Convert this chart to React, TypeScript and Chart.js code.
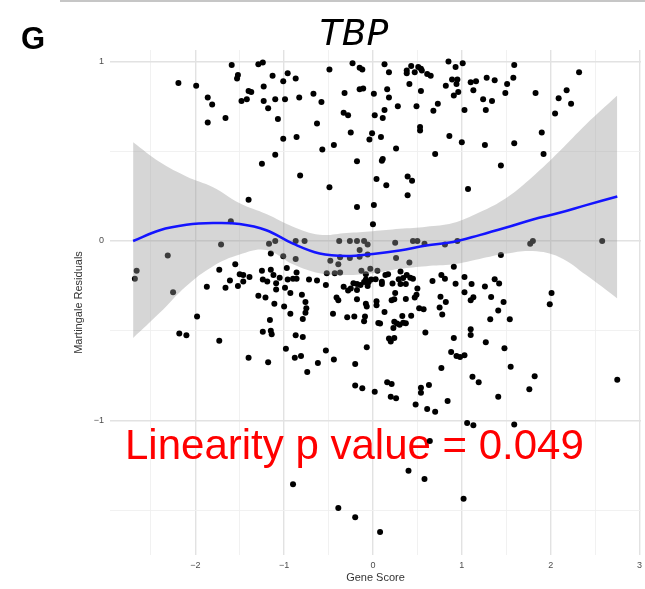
import React, { useEffect, useRef } from "react";
import { Chart, registerables } from "chart.js";
Chart.register(...registerables);

// Gene score (x) of every sample
const geneScore = [
  -2.19, -1.99, -1.86, -1.81, -1.86, -1.66, -1.59, -1.52, -1.53, -1.48, -1.42, -1.40, -1.37, -1.29, -1.24, -1.23, -1.23, -1.18, -1.13, -1.10,
  -1.07, -1.01, -0.96, -0.99, -0.87, -0.83, -1.01, -0.86, -0.67, -0.63, -0.58, -0.49, -0.44, -0.57, -0.32, -0.33, -0.28, -0.25, -0.23, -0.15,
  -0.12, -0.15, -0.11, 0.01, 0.02, -0.01, -0.04, -1.25, -1.10, -0.82, -0.49, -1.40, -1.60, -0.18, -0.18, 0.13, 0.18, 0.16, 0.18, 0.28,
  0.13, 0.11, 0.09, 0.26, 0.38, 0.38, 0.43, 0.47, 0.51, 0.54, 0.55, 0.41, 0.54, 0.49, 0.61, 0.65, 0.73, 0.68, 0.53, 0.53,
  0.85, 0.93, 1.01, 0.82, 0.89, 0.95, 0.94, 0.96, 0.91, 1.03, 0.86, 1.00, 1.10, 1.16, 1.13, 1.28, 1.37, 1.24, 1.34, 1.27,
  1.26, 1.51, 1.58, 1.59, 1.49, 1.59, 1.83, 1.90, 2.05, 2.09, 2.18, 2.23, 2.32, 0.01, 0.00, 0.04, 0.15, 0.11, 0.10, 0.39,
  0.44, 0.39, 0.70, 1.07, 1.44, 1.92, -2.66, -2.68, -2.31, -1.71, -2.25, -1.98, -2.18, -2.10, -1.73, -1.87, -1.73, -1.55, -1.66, -1.61,
  -1.52, -1.50, -1.46, -1.46, -1.39, -1.29, -1.21, -1.25, -1.15, -1.12, -1.05, -1.24, -1.19, -1.09, -1.09, -0.99, -1.11, -1.00, -1.16, -1.24,
  -1.15, -1.14, -1.40, -1.18, -0.98, -1.17, -1.10, -1.15, -1.01, -0.87, -0.97, -0.87, -0.77, -0.88, -0.81, -0.74, -0.62, -0.53, -0.44, -0.20,
  -0.20, -0.87, -0.79, -0.93, -0.79, -0.75, -0.76, -0.76, -0.80, -0.93, -0.96, -0.90, -0.86, -0.86, -0.72, -0.63, -0.53, -0.45, -0.41, -0.39,
  -0.33, -0.28, -0.25, -0.22, -0.18, -0.29, -0.21, -0.18, -0.52, -0.43, -0.37, -0.48, -0.39, -0.38, -0.26, -0.18, -0.10, -0.06, -0.15, 0.25,
  0.45, 0.50, 0.58, 0.81, 0.95, 1.77, 1.80, 2.58, -0.37, -0.26, -0.15, -0.06, 0.26, 0.41, -0.13, -0.08, -0.03, 0.05, 0.14, 0.17,
  0.31, 0.38, 0.42, 0.45, -0.14, -0.10, -0.05, -0.02, -0.08, 0.03, -0.18, -0.06, -0.08, -0.07, -0.09, -0.10, 0.04, 0.04, 0.10, 0.10,
  0.13, 0.06, 0.08, 0.21, 0.24, 0.25, 0.22, 0.29, 0.31, 0.37, 0.34, 0.24, 0.27, 0.30, 0.34, 0.37, 0.33, 0.43, 0.23, 0.18,
  0.20, 0.24, 0.37, 0.49, 0.50, 0.47, 0.52, 0.57, 0.59, 0.67, 0.77, 0.81, 0.76, 0.82, 0.75, 0.78, 0.91, 1.03, 1.37, 1.42,
  0.93, 1.11, 1.26, 1.03, 1.33, 1.13, 1.10, 1.47, 1.41, 1.32, 1.54, 1.10, 1.10, 0.91, 1.27, 1.48, 0.88, 0.94, 0.98, 1.03,
  1.44, 1.99, 2.01, -0.07, -0.12, 0.02, 0.16, 0.21, 0.20, 0.26, 0.48, 0.54, 0.54, 0.63, 0.61, 0.70, 0.77, 0.84, 1.06, 1.13,
  1.12, 1.19, 1.41, 1.55, 1.59, 1.76, 1.82, 2.75, 0.64, 0.40, 0.58, 1.02, -0.90, -0.39, -0.20, 0.08,
];

// Martingale residual (y) of every sample
const residual = [
  0.88, 0.865, 0.80, 0.76, 0.66, 0.685, 0.98, 0.925, 0.905, 0.78, 0.79, 0.835, 0.83, 0.985, 0.995, 0.86, 0.78, 0.74, 0.92, 0.79,
  0.68, 0.89, 0.935, 0.79, 0.905, 0.80, 0.57, 0.58, 0.82, 0.655, 0.775, 0.955, 0.535, 0.51, 0.825, 0.715, 0.70, 0.605, 0.99, 0.965,
  0.955, 0.845, 0.85, 0.82, 0.70, 0.60, 0.565, 0.43, 0.48, 0.365, 0.30, 0.23, 0.11, 0.445, 0.19, 0.985, 0.94, 0.845, 0.80, 0.75,
  0.73, 0.685, 0.58, 0.515, 0.95, 0.935, 0.975, 0.94, 0.97, 0.96, 0.95, 0.875, 0.835, 0.75, 0.93, 0.92, 0.765, 0.725, 0.635, 0.615,
  1.0, 0.97, 0.99, 0.865, 0.90, 0.90, 0.875, 0.83, 0.81, 0.73, 0.585, 0.55, 0.885, 0.89, 0.84, 0.91, 0.895, 0.79, 0.78, 0.73,
  0.535, 0.875, 0.91, 0.98, 0.825, 0.545, 0.825, 0.605, 0.71, 0.795, 0.84, 0.765, 0.94, 0.20, 0.093, 0.345, 0.31, 0.457, 0.447, 0.36,
  0.335, 0.255, 0.485, 0.29, 0.42, 0.485, -0.165, -0.21, -0.08, -0.02, -0.285, -0.42, -0.515, -0.525, -0.555, -0.255, -0.16, -0.13, -0.26, -0.22,
  -0.25, -0.185, -0.19, -0.225, -0.20, -0.305, -0.315, -0.165, -0.16, -0.19, -0.205, -0.215, -0.225, -0.235, -0.27, -0.26, -0.35, -0.365, -0.44, -0.505,
  -0.50, -0.52, -0.65, -0.675, -0.60, -0.015, 0.0, -0.07, -0.085, -0.10, -0.15, 0.0, 0.0, -0.65, -0.64, -0.73, -0.68, -0.61, -0.66, -0.685,
  -0.805, -0.525, -0.535, -0.405, -0.435, -0.375, -0.40, -0.34, -0.30, -0.29, -0.215, -0.21, -0.21, -0.175, -0.215, -0.22, -0.245, -0.405, -0.315, -0.33,
  -0.255, -0.275, -0.265, -0.235, -0.24, -0.425, -0.42, -0.325, -0.18, -0.18, -0.175, -0.11, -0.13, 0.0, 0.0, 0.0, 0.0, -0.02, -0.05, -0.01,
  0.0, 0.0, -0.015, -0.02, 0.0, -0.015, 0.0, 0.0, -0.09, -0.095, -0.088, -0.075, -0.095, -0.12, -0.165, -0.185, -0.155, -0.165, -0.19, -0.185,
  -0.17, -0.19, -0.205, -0.21, -0.245, -0.228, -0.23, -0.215, -0.214, -0.213, -0.273, -0.25, -0.35, -0.365, -0.42, -0.447, -0.335, -0.358, -0.227, -0.24,
  -0.395, -0.457, -0.46, -0.33, -0.325, -0.29, -0.237, -0.213, -0.24, -0.24, -0.206, -0.45, -0.46, -0.467, -0.455, -0.458, -0.418, -0.417, -0.485, -0.543,
  -0.56, -0.54, -0.323, -0.30, -0.264, -0.315, -0.375, -0.38, -0.51, -0.223, -0.19, -0.21, -0.31, -0.34, -0.37, -0.41, -0.143, -0.20, -0.213, -0.236,
  -0.238, -0.24, -0.253, -0.286, -0.312, -0.313, -0.33, -0.34, -0.387, -0.436, -0.436, -0.492, -0.524, -0.54, -0.564, -0.598, -0.618, -0.64, -0.646, -0.636,
  -0.078, -0.352, -0.29, -0.592, -0.82, -0.84, -0.787, -0.797, -0.867, -0.876, -0.91, -0.817, -0.845, -0.802, -0.936, -0.951, -0.708, -0.891, -1.014, -1.026,
  -0.756, -0.787, -0.867, -0.70, -1.022, -0.826, -0.754, -0.773, -1.114, -1.28, -1.326, -1.436, -1.355, -1.487, -1.539, -1.621,
];

// LOESS fit and its confidence band
const smoothX = [-2.7, -2.4, -2.1, -1.8, -1.5, -1.2, -0.9, -0.6, -0.3, 0, 0.3, 0.6, 0.9, 1.2, 1.5, 1.8, 2.1, 2.4, 2.75];
const smoothY = [0.0, 0.06, 0.09, 0.1, 0.095, 0.06, -0.015, -0.07, -0.084, -0.072, -0.053, -0.025, -0.005, 0.033, 0.075, 0.12, 0.157, 0.2, 0.248];
const bandUpper = [0.55, 0.44, 0.36, 0.3, 0.21, 0.15, 0.08, 0.035, 0.045, 0.055, 0.068, 0.08, 0.1, 0.16, 0.24, 0.36, 0.5, 0.65, 0.81];
const bandLower = [-0.54, -0.4, -0.25, -0.14, -0.075, -0.05, -0.13, -0.18, -0.19, -0.18, -0.155, -0.14, -0.13, -0.1, -0.07, -0.056, -0.09, -0.19, -0.32];

const xGridValues = [-2.5, -2, -1.5, -1, -0.5, 0, 0.5, 1, 1.5, 2, 2.5, 3];
const yGridValues = [-1.5, -1, -0.5, 0, 0.5, 1];

const titleText = "TBP";
const panelLetter = "G";
const annotationText = "Linearity p value = 0.049";
const xTitle = "Gene Score";
const yTitle = "Martingale Residuals";

const fmt = (v: number) => (v < 0 ? "\u2212" + Math.abs(v) : String(v));

export default function App() {
  const ref = useRef<HTMLCanvasElement | null>(null);
  useEffect(() => {
    if (!ref.current) return;
    const points = geneScore.map((x, i) => ({ x, y: residual[i] }));
    const line = smoothX.map((x, i) => ({ x, y: smoothY[i] }));
    const up = smoothX.map((x, i) => ({ x, y: bandUpper[i] }));
    const lo = smoothX.map((x, i) => ({ x, y: bandLower[i] }));

    const textPlugin = {
      id: "texts",
      beforeDatasetsDraw(chart: any) {
        const ctx = chart.ctx;
        ctx.save();
        ctx.fillStyle = "#ff0000";
        ctx.font = '42px "Liberation Sans", Arial, sans-serif';
        ctx.textAlign = "left";
        ctx.textBaseline = "alphabetic";
        ctx.fillText(annotationText, 125, 459);
        ctx.restore();
      },
      afterDraw(chart: any) {
        const ctx = chart.ctx;
        ctx.save();
        ctx.strokeStyle = "#b3b3b3";
        ctx.lineWidth = 1.5;
        ctx.beginPath();
        ctx.moveTo(60, 1);
        ctx.lineTo(645, 1);
        ctx.stroke();
        ctx.fillStyle = "#000";
        ctx.textBaseline = "alphabetic";
        ctx.textAlign = "left";
        ctx.font = 'bold 31px "Liberation Sans", Arial, sans-serif';
        ctx.fillText(panelLetter, 21, 49);
        ctx.textAlign = "center";
        ctx.font = 'italic 36px "DejaVu Sans", sans-serif';
        ctx.fillText(titleText, 354, 45);
        ctx.restore();
      },
    };

    const chart = new Chart(ref.current, {
      type: "scatter",
      data: {
        datasets: [
          {
            type: "line",
            data: line,
            borderColor: "#1414ff",
            borderWidth: 2.5,
            pointRadius: 0,
            tension: 0.4,
            fill: false,
            order: 0,
          } as any,
          {
            type: "line",
            data: lo,
            borderWidth: 0,
            borderColor: "rgba(0,0,0,0)",
            pointRadius: 0,
            tension: 0.4,
            fill: false,
            order: 1,
          },
          {
            type: "line",
            data: up,
            borderWidth: 0,
            borderColor: "rgba(0,0,0,0)",
            backgroundColor: "rgba(153,153,153,0.4)",
            pointRadius: 0,
            tension: 0.4,
            fill: 1,
            order: 1,
          },
          {
            type: "scatter",
            data: points,
            backgroundColor: "#000",
            borderWidth: 0,
            pointRadius: 3,
            order: 2,
          },
        ],
      },
      options: {
        animation: false,
        responsive: false,
        devicePixelRatio: 1,
        layout: { padding: { left: 70, top: 50, right: 0, bottom: 0 } },
        plugins: { legend: { display: false }, tooltip: { enabled: false } },
        scales: {
          x: {
            type: "linear",
            min: -2.96,
            max: 3.017,
            afterBuildTicks: (s: any) => {
              s.ticks = xGridValues.map((v) => ({ value: v }));
            },
            afterFit: (s: any) => {
              s.height = 34;
              s.paddingLeft = 0;
              s.paddingRight = 0;
            },
            ticks: {
              autoSkip: false,
              maxRotation: 0,
              padding: 5,
              color: "#4d4d4d",
              font: { size: 9, family: '"Liberation Sans", Arial, sans-serif' },
              callback: (v: any) => (Number.isInteger(v) ? fmt(v) : ""),
            },
            grid: {
              drawTicks: false,
              color: (c: any) => (Number.isInteger(c.tick?.value) ? "#e2e2e2" : "#efefef"),
              lineWidth: (c: any) => (Number.isInteger(c.tick?.value) ? 1.4 : 0.9),
            },
            border: { display: false },
            title: {
              display: true,
              text: xTitle,
              color: "#333",
              font: { size: 11, family: '"Liberation Sans", Arial, sans-serif' },
              padding: { top: 2, bottom: 4 },
            },
          },
          y: {
            type: "linear",
            min: -1.749,
            max: 1.064,
            afterBuildTicks: (s: any) => {
              s.ticks = yGridValues.map((v) => ({ value: v }));
            },
            afterFit: (s: any) => {
              s.width = 40;
              s.paddingTop = 0;
              s.paddingBottom = 0;
            },
            ticks: {
              autoSkip: false,
              padding: 6,
              color: "#4d4d4d",
              font: { size: 9, family: '"Liberation Sans", Arial, sans-serif' },
              callback: (v: any) => (Number.isInteger(v) ? fmt(v) : ""),
            },
            grid: {
              drawTicks: false,
              color: (c: any) => (Number.isInteger(c.tick?.value) ? "#e2e2e2" : "#efefef"),
              lineWidth: (c: any) => (Number.isInteger(c.tick?.value) ? 1.4 : 0.9),
            },
            border: { display: false },
            title: {
              display: true,
              text: yTitle,
              color: "#333",
              font: { size: 11, family: '"Liberation Sans", Arial, sans-serif' },
              padding: { top: 2, bottom: 0 },
            },
          },
        },
      },
      plugins: [textPlugin],
    } as any);
    return () => chart.destroy();
  }, []);

  return (
    <div style={{ position: "fixed", left: 0, top: 0, width: 645, height: 589, background: "#fff" }}>
      <canvas ref={ref} width={645} height={589} style={{ display: "block", width: 645, height: 589 }} />
    </div>
  );
}
